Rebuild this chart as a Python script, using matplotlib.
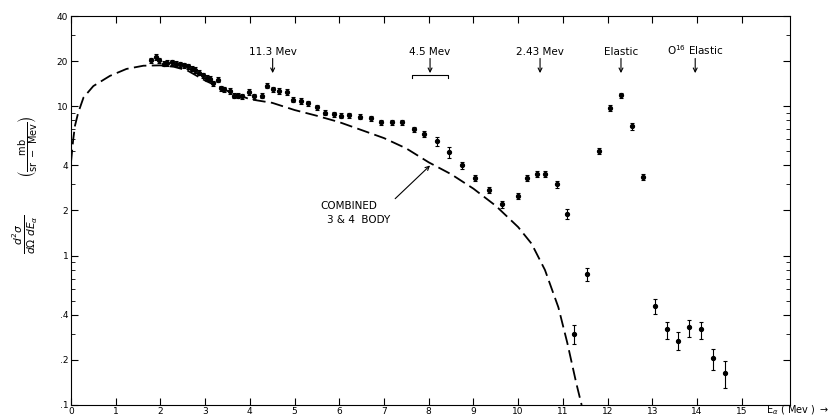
import matplotlib
matplotlib.use('Agg')
import matplotlib.pyplot as plt
from matplotlib.ticker import FixedLocator, LogLocator, NullFormatter

energy = [1.79, 1.89, 1.97, 2.07, 2.15, 2.25, 2.34, 2.44, 2.53, 2.62, 2.70, 2.77,
          2.87, 2.96, 3.04, 3.11, 3.18, 3.29, 3.35, 3.42, 3.56, 3.65, 3.74, 3.83,
          3.99, 4.09, 4.27, 4.38, 4.51, 4.66, 4.83, 4.97, 5.15, 5.31, 5.50, 5.68,
          5.88, 6.03, 6.22, 6.47, 6.70, 6.93, 7.17, 7.40, 7.66, 7.90, 8.19, 8.46,
          8.74, 9.04, 9.34, 9.63, 9.99, 10.20, 10.42, 10.61, 10.87, 11.09, 11.25,
          11.55, 11.81, 12.06, 12.31, 12.54, 12.80, 13.07, 13.33, 13.58, 13.83,
          14.09, 14.35, 14.63]
xsec = [20.2, 21.3, 20.2, 19.2, 19.4, 19.6, 19.2, 19.0, 18.7, 18.5, 17.8, 17.4,
        16.7, 16.0, 15.4, 15.2, 14.2, 15.0, 13.1, 12.9, 12.6, 11.7, 11.7, 11.6,
        12.4, 11.6, 11.7, 13.7, 12.9, 12.6, 12.4, 11.0, 10.8, 10.4, 9.8, 9.0,
        8.8, 8.6, 8.7, 8.5, 8.3, 7.8, 7.8, 7.8, 7.0, 6.5, 5.8, 4.9,
        4.0, 3.3, 2.75, 2.2, 2.5, 3.3, 3.5, 3.5, 3.0, 1.9, 0.30,
        0.75, 5.0, 9.7, 11.8, 7.3, 3.35, 0.46, 0.32, 0.27, 0.33,
        0.32, 0.205, 0.163]
# relative error of each point
err = [0.04] * 46 + [0.07, 0.08, 0.05, 0.05, 0.05, 0.05, 0.05, 0.05, 0.05, 0.05,
                     0.05, 0.07, 0.15, 0.10, 0.04, 0.04, 0.04, 0.05, 0.04, 0.12,
                     0.13, 0.14, 0.13, 0.13, 0.16, 0.20]

# combined 3 & 4 body calculation (dashed curve)
calc_e = [0.0, 0.05, 0.09, 0.16, 0.28, 0.5, 0.87, 1.24, 1.62, 2.0, 2.3, 2.6,
          3.0, 3.5, 4.0, 4.5, 5.0, 5.5, 6.0, 6.5, 7.0, 7.5, 8.0, 8.5, 9.0,
          9.5, 10.0, 10.3, 10.6, 10.9, 11.1, 11.3, 11.42]
calc_xs = [4.2, 6.0, 7.4, 9.0, 11.4, 13.6, 15.9, 17.7, 18.6, 18.7, 18.3, 17.3,
           14.8, 12.6, 11.1, 10.5, 9.4, 8.6, 7.8, 6.9, 6.1, 5.2, 4.2, 3.5, 2.8,
           2.15, 1.55, 1.2, 0.8, 0.45, 0.26, 0.14, 0.1]

# level markers: (label, energy)
markers = [("11.3 Mev", 4.51), ("4.5 Mev", 8.03), ("2.43 Mev", 10.49),
           ("Elastic", 12.30), (r"O$^{16}$ Elastic", 13.96)]

ytick_vals = [0.1, 0.2, 0.4, 1, 2, 4, 10, 20, 40]
ytick_labels = [".1", ".2", ".4", "1", "2", "4", "10", "20", "40"]
xtick_vals = list(range(0, 16))

fig = plt.figure(figsize=(8.35, 4.19), dpi=100)
ax = fig.add_axes([71 / 835, 1 - 405 / 419, (790 - 71) / 835, (405 - 16) / 419])
ax.set_yscale("log")
ax.set_xlim(0, 16.08)
ax.set_ylim(0.1, 40)

ax.plot(calc_e, calc_xs, color="black", lw=1.3, linestyle=(0, (7, 3)))

lo = [y * e for y, e in zip(xsec, err)]
ax.errorbar(energy, xsec, yerr=[lo, lo], fmt="o", ms=2.8, color="black",
            ecolor="black", elinewidth=0.8, capsize=1.5, capthick=0.8)

for label, e in markers:
    ax.text(e, 21.3, label, ha="center", va="bottom", fontsize=7.5)
    ax.annotate("", xy=(e, 16.6), xytext=(e, 20.8),
                arrowprops=dict(arrowstyle="->", lw=0.8, color="black",
                                shrinkA=0, shrinkB=0, mutation_scale=7))
# energy spread bracket under 4.5 Mev arrow
ax.plot([7.63, 7.63, 8.43, 8.43], [15.3, 16.1, 16.1, 15.3], color="black", lw=0.8)

ax.text(5.57, 2.16, "COMBINED", fontsize=7.5, va="center")
ax.text(5.73, 1.72, "3 & 4  BODY", fontsize=7.5, va="center")
ax.annotate("", xy=(8.03, 4.0), xytext=(7.25, 2.4),
            arrowprops=dict(arrowstyle="->", lw=0.8, color="black",
                            shrinkA=0, shrinkB=0, mutation_scale=7))

ax.yaxis.set_major_locator(FixedLocator(ytick_vals))
ax.set_yticklabels(ytick_labels)
ax.yaxis.set_minor_locator(LogLocator(base=10, subs=range(2, 10)))
ax.yaxis.set_minor_formatter(NullFormatter())
ax.set_xticks(xtick_vals)
ax.set_xticklabels([str(v) for v in xtick_vals])
ax.tick_params(which="both", direction="in", top=True, right=True, labelsize=6.5)
ax.tick_params(axis="x", pad=1.5)
ax.tick_params(axis="y", pad=2)
ax.tick_params(which="major", length=5, width=0.8)
ax.tick_params(which="minor", length=3, width=0.6)
for s in ax.spines.values():
    s.set_linewidth(0.8)

fig.text(0.917, 0.004, r"E$_\alpha$ ( Mev ) $\rightarrow$", fontsize=7, va="bottom")
fig.text(0.030, 0.44, r"$\frac{d^2\sigma}{d\Omega\ dE_\alpha}$", rotation=90,
         fontsize=11, ha="center", va="center")
fig.text(0.034, 0.65, r"$\left(\frac{\mathrm{mb}}{\mathrm{sr\ -\ Mev}}\right)$",
         rotation=90, fontsize=10, ha="center", va="center")

fig.savefig("out.png", dpi=100)
